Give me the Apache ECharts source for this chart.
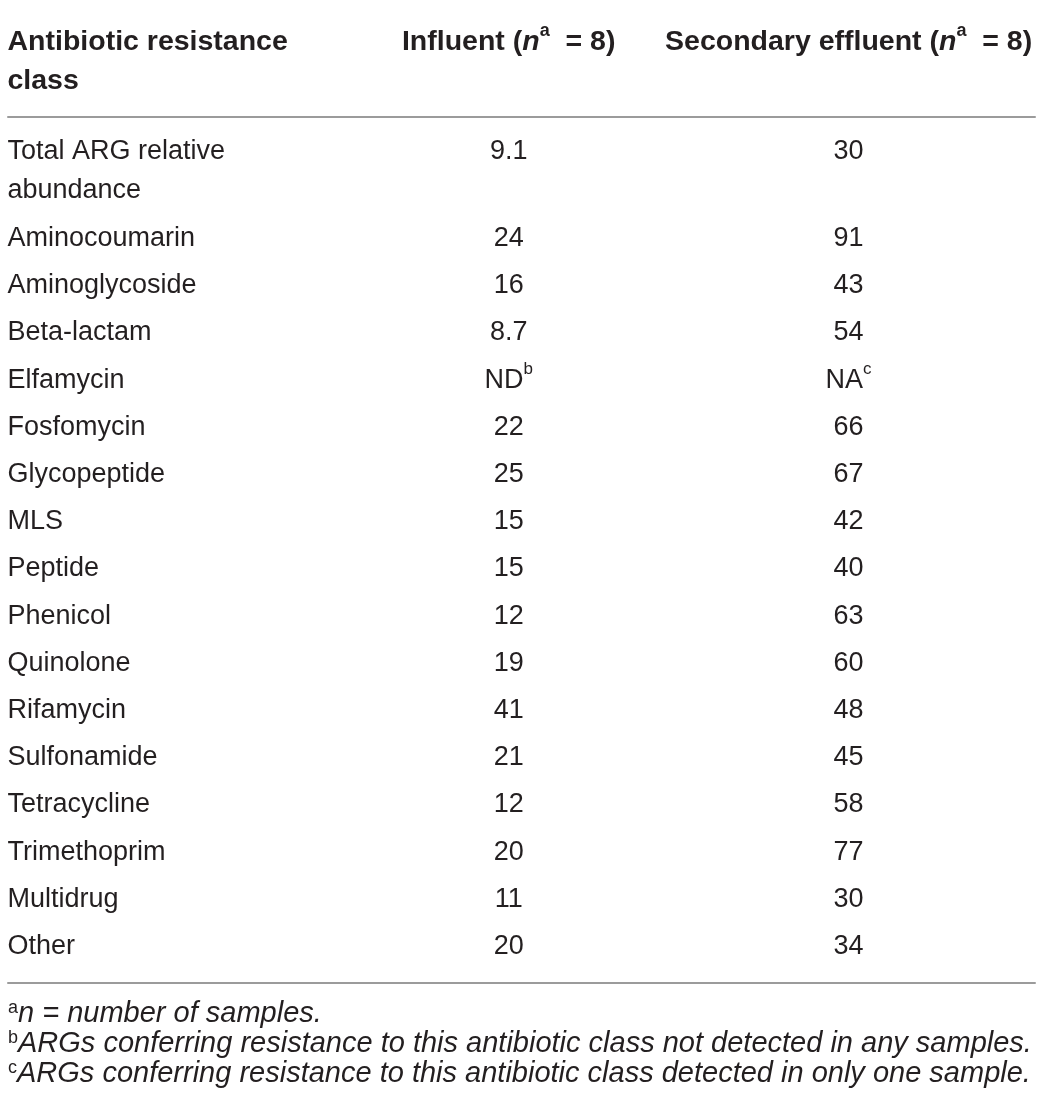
<!DOCTYPE html>
<html>
<head>
<meta charset="utf-8">
<script src="https://cdn.jsdelivr.net/npm/echarts@6/dist/echarts.min.js"></script>
<style>
    html, body { margin: 0; background: #fff; }
    #table_chart { width: 1040px; height: 1108px; }
</style>
</head>
<body>
<div id="table_chart"></div>
<script>
// table content
var headers = ['Antibiotic resistance class', 'Influent', 'Secondary effluent'];
var sampleCounts = [8, 8];
var classes = [
    'Total ARG relative abundance', 'Aminocoumarin', 'Aminoglycoside', 'Beta-lactam',
    'Elfamycin', 'Fosfomycin', 'Glycopeptide', 'MLS', 'Peptide', 'Phenicol',
    'Quinolone', 'Rifamycin', 'Sulfonamide', 'Tetracycline', 'Trimethoprim',
    'Multidrug', 'Other'
];
var influent = [9.1, 24, 16, 8.7, null, 22, 25, 15, 15, 12, 19, 41, 21, 12, 20, 11, 20];
var effluent = [30, 91, 43, 54, null, 66, 67, 42, 40, 63, 60, 48, 45, 58, 77, 30, 34];
var influentMissing = ['ND', 'b'];   // text, footnote mark
var effluentMissing = ['NA', 'c'];
var footMarks = ['a', 'b', 'c'];
var footTexts = [
    'n = number of samples.',
    'ARGs conferring resistance to this antibiotic class not detected in any samples.',
    'ARGs conferring resistance to this antibiotic class detected in only one sample.'
];

// layout
var FONT = "'Liberation Sans', Arial, sans-serif";
var INK = '#231f20';
var BODY_SIZE = 27, HEAD_SIZE = 28.5, LINE_H = 39;
var FIRST_COL_W = 300;
var colX = [0, 0.488, 0.819];       // column anchors on the hidden x axis
var wrapStep = 0.843;               // extra row units per wrapped line
var headerY = -2.32;

function countLines(text, font, maxWidth) {
    var ctx = document.createElement('canvas').getContext('2d');
    ctx.font = font;
    var words = text.split(' '), lines = 1, cur = '';
    words.forEach(function (w) {
        var test = cur ? cur + ' ' + w : w;
        if (cur && ctx.measureText(test).width > maxWidth) {
            lines++;
            cur = w;
        } else {
            cur = test;
        }
    });
    return lines;
}

// row positions from the wrapped line count of each class name
var rowY = [];
classes.forEach(function (c, i) {
    if (i === 0) {
        rowY.push(0);
    } else {
        var prevLines = countLines(classes[i - 1], BODY_SIZE + 'px ' + FONT, FIRST_COL_W);
        rowY.push(rowY[i - 1] + 1 + (prevLines - 1) * wrapStep);
    }
});

var rich = {
    t: { fontSize: BODY_SIZE, lineHeight: LINE_H, fontFamily: FONT, color: INK },
    s: { fontSize: 17, lineHeight: 20, verticalAlign: 'top', fontFamily: FONT, color: INK },
    h: { fontSize: HEAD_SIZE, lineHeight: LINE_H, fontWeight: 'bold', fontFamily: FONT, color: INK },
    hi: { fontSize: HEAD_SIZE, lineHeight: LINE_H, fontWeight: 'bold', fontStyle: 'italic', fontFamily: FONT, color: INK },
    hs: { fontSize: 18, lineHeight: 20, verticalAlign: 'top', fontWeight: 'bold', fontFamily: FONT, color: INK }
};

function valueText(v, missing) {
    if (v === null) return '{t|' + missing[0] + '}{s|' + missing[1] + '}';
    return '{t|' + v + '}';
}

function cellLabel(align) {
    return {
        show: true,
        position: [0, 0],
        align: align,
        verticalAlign: 'top',
        offset: [0, -LINE_H / 2],
        opacity: 1,
        color: INK,
        rich: rich
    };
}

// invisible anchor symbol; labels keep full opacity
var blank = { color: 'rgba(0,0,0,0)', opacity: 1 };

var myChart = echarts.init(document.getElementById('table_chart'));

var option = {
    animation: false,
    grid: { left: 8, right: 5, top: 117, bottom: 125 },
    xAxis: [0, 1].map(function (k) {
        return {
            type: 'value',
            min: 0,
            max: 1,
            position: k === 0 ? 'bottom' : 'top',
            axisLine: { show: true, onZero: false, lineStyle: { color: '#9b9b9b', width: 2 } },
            axisTick: { show: false },
            axisLabel: { show: false },
            splitLine: { show: false }
        };
    }),
    yAxis: {
        type: 'value',
        inverse: true,
        min: -0.742,
        max: 17.606,
        show: false
    },
    series: [
        {
            name: 'header',
            type: 'scatter',
            clip: false,
            symbolSize: 1,
            itemStyle: blank,
            silent: true,
            data: [
                {
                    value: [colX[0], headerY],
                    label: Object.assign(cellLabel('left'), {
                        formatter: headers[0],
                        width: FIRST_COL_W,
                        overflow: 'break',
                        fontSize: HEAD_SIZE,
                        fontWeight: 'bold',
                        fontFamily: FONT,
                        lineHeight: LINE_H
                    })
                },
                {
                    value: [colX[1], headerY],
                    label: Object.assign(cellLabel('center'), {
                        formatter: '{h|' + headers[1] + ' (}{hi|n}{hs|a}{h|  = ' + sampleCounts[0] + ')}'
                    })
                },
                {
                    value: [colX[2], headerY],
                    label: Object.assign(cellLabel('center'), {
                        formatter: '{h|' + headers[2] + ' (}{hi|n}{hs|a}{h|  = ' + sampleCounts[1] + ')}'
                    })
                }
            ]
        },
        {
            name: 'class',
            type: 'scatter',
            clip: false,
            symbolSize: 1,
            itemStyle: blank,
            silent: true,
            label: Object.assign(cellLabel('left'), {
                formatter: function (p) { return p.name; },
                width: FIRST_COL_W,
                overflow: 'break',
                fontSize: BODY_SIZE,
                fontFamily: FONT,
                lineHeight: LINE_H
            }),
            data: classes.map(function (c, i) {
                return { name: c, value: [colX[0], rowY[i]] };
            })
        },
        {
            name: 'Influent',
            type: 'scatter',
            clip: false,
            symbolSize: 1,
            itemStyle: blank,
            silent: true,
            label: Object.assign(cellLabel('center'), {
                formatter: function (p) { return valueText(influent[p.dataIndex], influentMissing); }
            }),
            data: influent.map(function (v, i) { return [colX[1], rowY[i]]; })
        },
        {
            name: 'Secondary effluent',
            type: 'scatter',
            clip: false,
            symbolSize: 1,
            itemStyle: blank,
            silent: true,
            label: Object.assign(cellLabel('center'), {
                formatter: function (p) { return valueText(effluent[p.dataIndex], effluentMissing); }
            }),
            data: effluent.map(function (v, i) { return [colX[2], rowY[i]]; })
        }
    ],
    graphic: footTexts.map(function (t, i) {
        return {
            type: 'text',
            left: 8,
            top: 999 + i * 30,
            silent: true,
            style: {
                text: '{m|' + footMarks[i] + '}{f|' + t + '}',
                rich: {
                    m: { fontSize: 18, lineHeight: 18, verticalAlign: 'top', fontFamily: FONT, fill: INK, color: INK },
                    f: { fontSize: 29, lineHeight: 30, fontStyle: 'italic', fontFamily: FONT, fill: INK, color: INK }
                }
            }
        };
    })
};

myChart.setOption(option);
</script>
</body>
</html>
